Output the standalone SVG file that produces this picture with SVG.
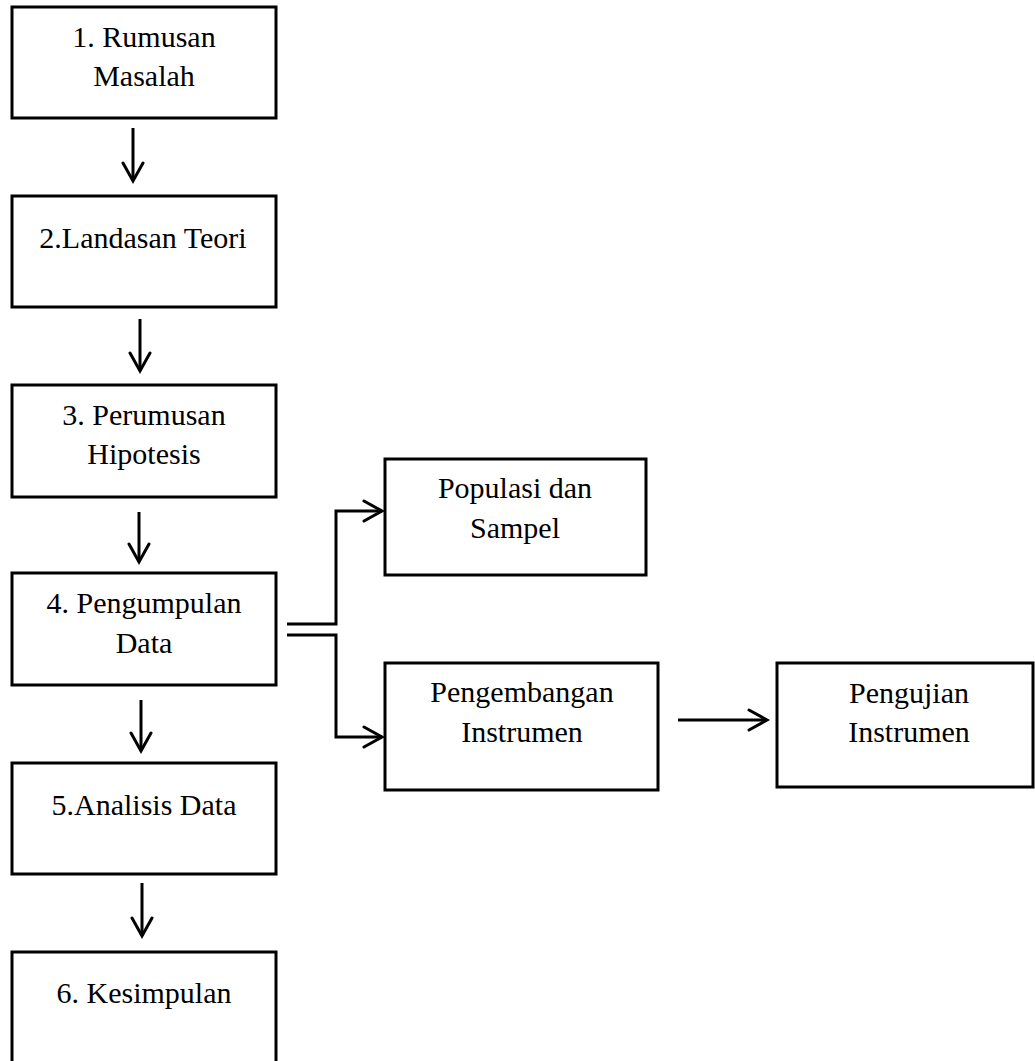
<svg xmlns="http://www.w3.org/2000/svg" width="1035" height="1061" viewBox="0 0 1035 1061">
<style>
.box{fill:#fff;stroke:#000;stroke-width:3}
.t{font-family:"Liberation Serif","Times New Roman",serif;font-size:30px;fill:#000;text-anchor:middle}
.c{fill:none;stroke:#000;stroke-width:3}
</style>
<defs>
<marker id="ah" markerUnits="userSpaceOnUse" viewBox="-22 -12 26 24" refX="0" refY="0" markerWidth="26" markerHeight="24" orient="auto">
<path d="M-18,-10 L0,0 L-18,10" fill="none" stroke="#000" stroke-width="3" stroke-linecap="round" stroke-linejoin="miter"/>
</marker>
</defs>
<rect width="1035" height="1061" fill="#fff"/>
<g id="connectors">
<path class="c" d="M133,128 V181" marker-end="url(#ah)"/>
<path class="c" d="M140,319 V371" marker-end="url(#ah)"/>
<path class="c" d="M139,512 V562" marker-end="url(#ah)"/>
<path class="c" d="M141,700 V751" marker-end="url(#ah)"/>
<path class="c" d="M142,883 V936" marker-end="url(#ah)"/>
<path class="c" d="M287,624 H336 V511 H382" marker-end="url(#ah)"/>
<path class="c" d="M287,635 H336 V737 H382" marker-end="url(#ah)"/>
<path class="c" d="M678,720 H767" marker-end="url(#ah)"/>
</g>
<g id="n1"><rect class="box" x="12" y="7" width="264" height="111"/><text class="t" x="144" y="47">1. Rumusan</text><text class="t" x="144" y="86">Masalah</text></g>
<g id="n2"><rect class="box" x="12" y="196" width="264" height="111"/><text class="t" x="143" y="248">2.Landasan Teori</text></g>
<g id="n3"><rect class="box" x="12" y="385" width="264" height="112"/><text class="t" x="144" y="425">3. Perumusan</text><text class="t" x="144" y="464">Hipotesis</text></g>
<g id="n4"><rect class="box" x="12" y="573" width="264" height="112"/><text class="t" x="144" y="613">4. Pengumpulan</text><text class="t" x="144" y="653">Data</text></g>
<g id="n5"><rect class="box" x="12" y="763" width="264" height="111"/><text class="t" x="144" y="815">5.Analisis Data</text></g>
<g id="n6"><rect class="box" x="12" y="952" width="264" height="115"/><text class="t" x="144" y="1003">6. Kesimpulan</text></g>
<g id="n7"><rect class="box" x="385" y="459" width="261" height="116"/><text class="t" x="515" y="498">Populasi dan</text><text class="t" x="515" y="538">Sampel</text></g>
<g id="n8"><rect class="box" x="385" y="663" width="273" height="127"/><text class="t" x="522" y="702">Pengembangan</text><text class="t" x="522" y="742">Instrumen</text></g>
<g id="n9"><rect class="box" x="777" y="663" width="256" height="124"/><text class="t" x="909" y="703">Pengujian</text><text class="t" x="909" y="742">Instrumen</text></g>
</svg>
